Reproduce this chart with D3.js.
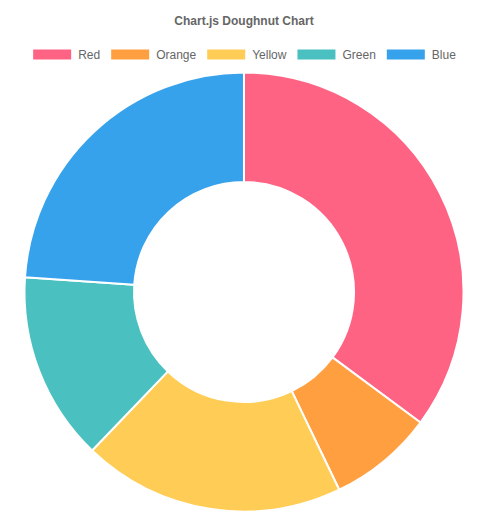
<!DOCTYPE html>
<html><head><meta charset="utf-8">
<script src="https://cdn.jsdelivr.net/npm/d3@7"></script>
<style>html,body{margin:0;padding:0;background:#fff;}svg{display:block;}</style>
</head><body>
<svg id="chart" width="491" height="513"></svg>
<script>
const labels = ["Red", "Orange", "Yellow", "Green", "Blue"];
const values = [91, 20, 50, 36, 62];
const colors = ["rgb(255,99,132)", "rgb(255,159,64)", "rgb(255,205,86)", "rgb(75,192,192)", "rgb(54,162,235)"];
const title = "Chart.js Doughnut Chart";

const W = 491, H = 513;
const font = "Arial, 'Liberation Sans', Helvetica, sans-serif";
const svg = d3.select("#chart");

svg.append("text").attr("x", 244).attr("y", 25)
  .attr("text-anchor", "middle").attr("font-family", font)
  .attr("font-size", 12).attr("font-weight", "bold").attr("fill", "#666")
  .text(title);

// legend
const leg = svg.append("g");
let x = 0;
labels.forEach((l, i) => {
  const g = leg.append("g");
  g.append("rect").attr("x", 1).attr("y", 49.5).attr("width", 38).attr("height", 10).attr("fill", colors[i]);
  const t = g.append("text").attr("x", 46).attr("y", 58.5).attr("font-family", font)
    .attr("font-size", 12).attr("fill", "#666").text(l);
  const w = 46 + t.node().getComputedTextLength();
  g.attr("transform", `translate(${x},0)`);
  x += w + 10;
});
const total = x - 10;
leg.attr("transform", `translate(${244 - total / 2},0)`);

// doughnut
const cx = 244, cy = 292, R = 219.5, r = 110;
const pie = d3.pie().sort(null).value(d => d)(values);
const arc = d3.arc().outerRadius(R).innerRadius(r);
svg.append("g").attr("transform", `translate(${cx},${cy})`)
  .selectAll("path").data(pie).join("path")
  .attr("d", arc).attr("fill", (d, i) => colors[i])
  .attr("stroke", "#fff").attr("stroke-width", 2).attr("stroke-linejoin", "bevel");
</script>
</body></html>
